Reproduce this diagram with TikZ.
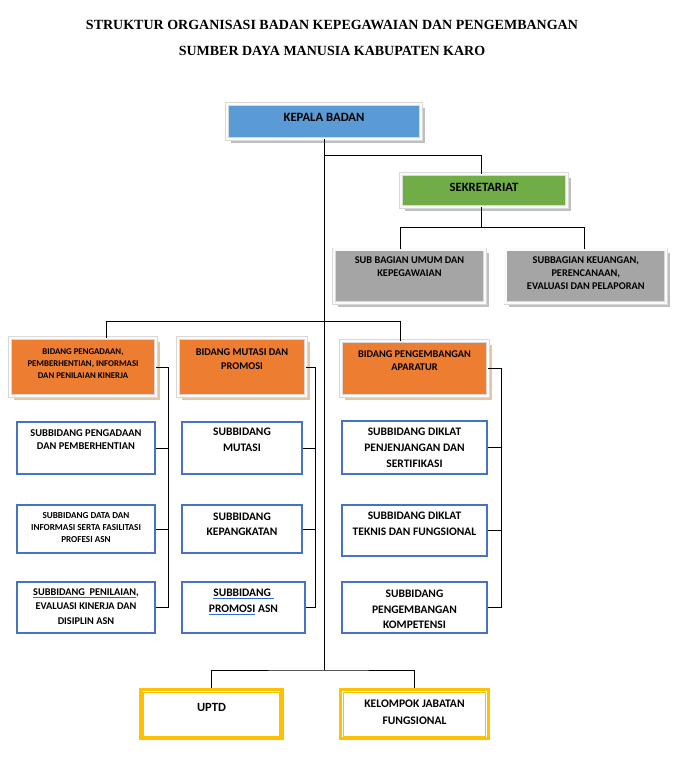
\documentclass[tikz,border=0pt]{standalone}
\usepackage{fontspec}
\setmainfont{Carlito}
\newfontfamily\titlefont{Liberation Serif}
\usetikzlibrary{shadows}
\definecolor{kepalablue}{HTML}{5B9BD5}
\definecolor{sekregreen}{HTML}{70AD47}
\definecolor{subgray}{HTML}{A5A5A5}
\definecolor{bidorange}{HTML}{ED7D31}
\definecolor{lineblue}{HTML}{4472C4}
\definecolor{uptdyellow}{HTML}{FFC000}
\definecolor{spellblue}{HTML}{2E6FD8}
\newlength{\unitpx}
\setlength{\unitpx}{0.03cm}
\newcommand{\boxtext}[4]{\parbox[c][#2\unitpx][t]{#1\unitpx}{\centering\vspace*{#3\unitpx}#4\par}}
\newcommand{\spell}[1]{{\color{spellblue}\underline{\color{black}#1}}}

\begin{document}
\begin{tikzpicture}[x=0.03cm, y=-0.03cm,
  every node/.style={inner sep=0pt},
  txt/.style 2 args={font=\bfseries\fontsize{#1}{#2}\selectfont},
  headbox/.style 2 args={fill=#1, draw=gray!30, line width=0.5pt, double=gray!4, double distance=1.9pt,
    drop shadow={shadow xshift=3.2pt, shadow yshift=-3.2pt, opacity=1, fill=#2}},
  subbox/.style={draw=lineblue, line width=2.1pt, fill=white},
  unitbox/.style={draw=uptdyellow, line width=2.6pt, fill=white},
  conn/.style={line width=0.8pt}]
  \useasboundingbox (0,0) rectangle (681,770);

  \node[font=\titlefont\bfseries\fontsize{11.95}{22}\selectfont, align=center] (title) at (332,38)
    {STRUKTUR ORGANISASI BADAN KEPEGAWAIAN DAN PENGEMBANGAN\\SUMBER DAYA MANUSIA KABUPATEN KARO};

  % pimpinan dan sekretariat
  \node[headbox={kepalablue}{gray!50}, txt={10.8}{13}] (kepala) at (324,121.5) {\boxtext{194}{35}{8.9}{KEPALA BADAN}};
  \node[headbox={sekregreen}{gray!50}, txt={10.8}{13}] (sekre) at (484,190.5) {\boxtext{166}{33}{8.9}{SEKRETARIAT}};
  \node[headbox={subgray}{gray!50}, txt={8.8}{11}] (umum) at (409.5,276.3)
    {\boxtext{151}{53.5}{7.2}{SUB BAGIAN UMUM DAN\\KEPEGAWAIAN}};
  \node[headbox={subgray}{gray!50}, txt={8.8}{11}] (keuangan) at (585.8,276.3)
    {\boxtext{160.5}{53.5}{7.2}{SUBBAGIAN KEUANGAN,\\PERENCANAAN,\\EVALUASI DAN PELAPORAN}};

  % bidang
  \node[headbox={bidorange}{brown!45}, txt={7.5}{10.2}] (pengadaan) at (83,367)
    {\boxtext{146}{58}{11.2}{BIDANG PENGADAAN,\\PEMBERHENTIAN, INFORMASI\\DAN PENILAIAN KINERJA}};
  \node[headbox={bidorange}{brown!45}, txt={8.8}{11.9}] (mutasi) at (242,367)
    {\boxtext{128}{58}{10.7}{BIDANG MUTASI DAN\\PROMOSI}};
  \node[headbox={bidorange}{brown!45}, txt={8.8}{11}] (aparatur) at (414.5,368.5)
    {\boxtext{147}{55}{9.7}{BIDANG PENGEMBANGAN\\APARATUR}};

  % subbidang
  \node[subbox, txt={8.9}{11}] (pengadaan1) at (86,448) {\boxtext{138}{52}{7.6}{SUBBIDANG PENGADAAN\\DAN PEMBERHENTIAN}};
  \node[subbox, txt={7.8}{10.6}] (pengadaan2) at (86,529) {\boxtext{138}{48}{7}{SUBBIDANG DATA DAN\\INFORMASI SERTA FASILITASI\\PROFESI ASN}};
  \node[subbox, txt={8.8}{12.3}] (pengadaan3) at (86,607.5) {\boxtext{138}{51}{6.7}{\spell{SUBBIDANG\ \ PENILAIAN},\\EVALUASI KINERJA DAN\\DISIPLIN ASN}};
  \node[subbox, txt={9.8}{13.6}] (mutasi1) at (242,448) {\boxtext{120}{52}{6.3}{SUBBIDANG\\MUTASI}};
  \node[subbox, txt={9.8}{12.8}] (mutasi2) at (242,529) {\boxtext{120}{48}{8.3}{SUBBIDANG\\KEPANGKATAN}};
  \node[subbox, txt={9.8}{13.6}] (mutasi3) at (243.5,607.5) {\boxtext{123}{51}{7.3}{\spell{SUBBIDANG\ }\\\spell{PROMOSI} ASN}};
  \node[subbox, txt={9.8}{13.6}] (aparatur1) at (414.5,447.5) {\boxtext{145}{53}{7.3}{SUBBIDANG DIKLAT\\PENJENJANGAN DAN\\SERTIFIKASI}};
  \node[subbox, txt={9.8}{13.6}] (aparatur2) at (414.5,530.5) {\boxtext{145}{51}{7.3}{SUBBIDANG DIKLAT\\TEKNIS DAN FUNGSIONAL}};
  \node[subbox, txt={9.8}{13.2}] (aparatur3) at (414.5,607.5) {\boxtext{145}{51}{8.3}{SUBBIDANG\\PENGEMBANGAN\\KOMPETENSI}};

  % unit di bawah
  \node[unitbox, txt={10.7}{13}] (uptd) at (211.5,714.4) {\boxtext{141}{49}{13}{UPTD}};
  \node[unitbox, txt={9.9}{14.5}] (jabfung) at (414.5,714.4) {\boxtext{148}{49}{10.3}{KELOMPOK JABATAN\\FUNGSIONAL}};
  \foreach \u in {uptd,jabfung}
    \draw[uptdyellow, line width=0.9pt] ([shift={(4.2,4.2)}]\u.north west) rectangle ([shift={(-4.2,-4.2)}]\u.south east);

  \coordinate (jsek) at (481,155);
  \coordinate (jsub) at (481,227);
  \coordinate (jumum) at (400,227);
  \coordinate (jkeu) at (584,227);
  \coordinate (jbid1) at (106,321);
  \coordinate (jbid3) at (400,321);
  \coordinate (jbawah) at (324,670);
  \coordinate (spine1) at (168,0);
  \coordinate (spine2) at (315,0);
  \coordinate (spine3) at (501,0);

  \draw[conn] (kepala.south) -- (jbawah);
  \draw[conn] (kepala.south |- jsek) -- (jsek) -- (jsek |- sekre.north);
  \draw[conn] (jsek |- sekre.south) -- (jsub);
  \draw[conn] (jumum |- umum.north) -- (jumum) -- (jkeu) -- (jkeu |- keuangan.north);
  \draw[conn] (jbid1 |- pengadaan.north) -- (jbid1) -- (jbid3) -- (jbid3 |- aparatur.north);
  \draw[conn] (uptd.north) |- (jbawah) -| (jabfung.north);
  \foreach \b/\s in {pengadaan/spine1, mutasi/spine2, aparatur/spine3} {
    \draw[conn] (\b.east) -- (\b.east -| \s) -- (\b3.east -| \s) -- (\b3.east);
    \draw[conn] (\b1.east) -- (\b1.east -| \s);
    \draw[conn] (\b2.east) -- (\b2.east -| \s);
  }
\end{tikzpicture}
\end{document}
